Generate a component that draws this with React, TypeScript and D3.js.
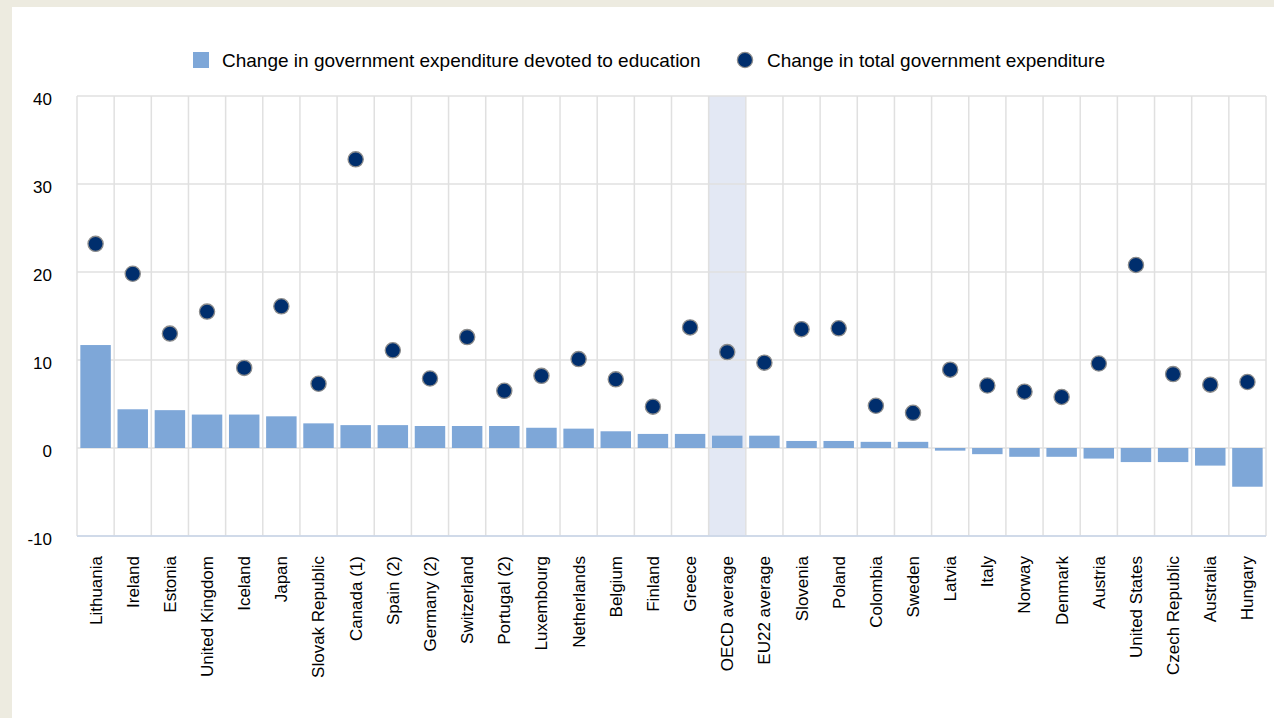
import React from "react";
import * as d3 from "d3";

const categories = [
  "Lithuania", "Ireland", "Estonia", "United Kingdom", "Iceland", "Japan",
  "Slovak Republic", "Canada (1)", "Spain (2)", "Germany (2)", "Switzerland",
  "Portugal (2)", "Luxembourg", "Netherlands", "Belgium", "Finland", "Greece",
  "OECD average", "EU22 average", "Slovenia", "Poland", "Colombia", "Sweden",
  "Latvia", "Italy", "Norway", "Denmark", "Austria", "United States",
  "Czech Republic", "Australia", "Hungary",
];

const educationChange = [
  11.7, 4.4, 4.3, 3.8, 3.8, 3.6, 2.8, 2.6, 2.6, 2.5, 2.5, 2.5, 2.3, 2.2, 1.9,
  1.6, 1.6, 1.4, 1.4, 0.8, 0.8, 0.7, 0.7, -0.3, -0.7, -1.0, -1.0, -1.2, -1.6,
  -1.6, -2.0, -4.4,
];

const totalChange = [
  23.2, 19.8, 13.0, 15.5, 9.1, 16.1, 7.3, 32.8, 11.1, 7.9, 12.6, 6.5, 8.2,
  10.1, 7.8, 4.7, 13.7, 10.9, 9.7, 13.5, 13.6, 4.8, 4.0, 8.9, 7.1, 6.4, 5.8,
  9.6, 20.8, 8.4, 7.2, 7.5,
];

const yTicks = [-10, 0, 10, 20, 30, 40];
const highlighted = "OECD average";

const legendLabels = [
  "Change in government expenditure devoted to education",
  "Change in total government expenditure",
];

const W = 1274;
const H = 718;
const FONT = "'Liberation Sans', Arial, sans-serif";

export default function App() {
  const left = 77;
  const right = 1266;
  const top = 96;
  const bottom = 536;

  const x = d3.scaleBand<string>().domain(categories).range([left, right]).padding(0);
  const y = d3.scaleLinear().domain([-10, 40]).range([bottom, top]);
  const step = x.step();
  const barW = step * 0.82;
  const zero = y(0);

  return (
    <div style={{ position: "absolute", left: 0, top: 0, width: W, height: H }}>
      <svg width={W} height={H} style={{ display: "block", fontFamily: FONT }}>
        <rect x={0} y={0} width={W} height={H} fill="#edebe0" />
        <rect x={12} y={7} width={W - 12} height={H - 7} fill="#ffffff" />

        {/* highlight band */}
        <rect
          x={x(highlighted)!}
          y={top}
          width={step}
          height={bottom - top}
          fill="#e3e8f4"
        />

        {/* horizontal gridlines */}
        {yTicks.map((t) => (
          <line
            key={"h" + t}
            x1={left}
            x2={right}
            y1={y(t)}
            y2={y(t)}
            stroke="#e0e0e0"
            strokeWidth={1.5}
          />
        ))}
        {/* vertical gridlines */}
        {categories.map((c) => (
          <line
            key={"v" + c}
            x1={x(c)!}
            x2={x(c)!}
            y1={top}
            y2={bottom}
            stroke="#e0e0e0"
            strokeWidth={1.5}
          />
        ))}
        <line x1={right} x2={right} y1={top} y2={bottom} stroke="#e0e0e0" strokeWidth={1.5} />
        <line x1={left} x2={right} y1={bottom} y2={bottom} stroke="#c9d6ea" strokeWidth={1.5} />

        {/* y tick labels */}
        {yTicks.map((t) => (
          <text
            key={"yl" + t}
            x={52}
            y={y(t) + 3}
            dy="0.35em"
            textAnchor="end"
            fontSize={17}
            fill="#000"
          >
            {t}
          </text>
        ))}

        {/* bars */}
        {categories.map((c, i) => {
          const v = educationChange[i];
          const yy = v >= 0 ? y(v) : zero;
          return (
            <rect
              key={"b" + c}
              x={x(c)! + (step - barW) / 2}
              y={yy}
              width={barW}
              height={Math.abs(y(v) - zero)}
              fill="#7ea7d8"
            />
          );
        })}

        {/* dots */}
        {categories.map((c, i) => (
          <circle
            key={"d" + c}
            cx={x(c)! + step / 2}
            cy={y(totalChange[i])}
            r={7.6}
            fill="#002e6d"
            stroke="#8c8c8c"
            strokeWidth={1.3}
          />
        ))}

        {/* x labels */}
        {categories.map((c) => {
          const cx = x(c)! + step / 2;
          const ty = 556;
          return (
            <text
              key={"xl" + c}
              transform={`translate(${cx},${ty}) rotate(-90)`}
              dy="0.35em"
              textAnchor="end"
              fontSize={17}
              fill="#000"
            >
              {c}
            </text>
          );
        })}

        {/* legend */}
        <rect x={193} y={52} width={16} height={16} fill="#7ea7d8" />
        <text x={222} y={67} fontSize={19} fill="#000">
          {legendLabels[0]}
        </text>
        <circle cx={745} cy={60} r={7.6} fill="#002e6d" stroke="#8c8c8c" strokeWidth={1.3} />
        <text x={767} y={67} fontSize={19} fill="#000">
          {legendLabels[1]}
        </text>
      </svg>
    </div>
  );
}
